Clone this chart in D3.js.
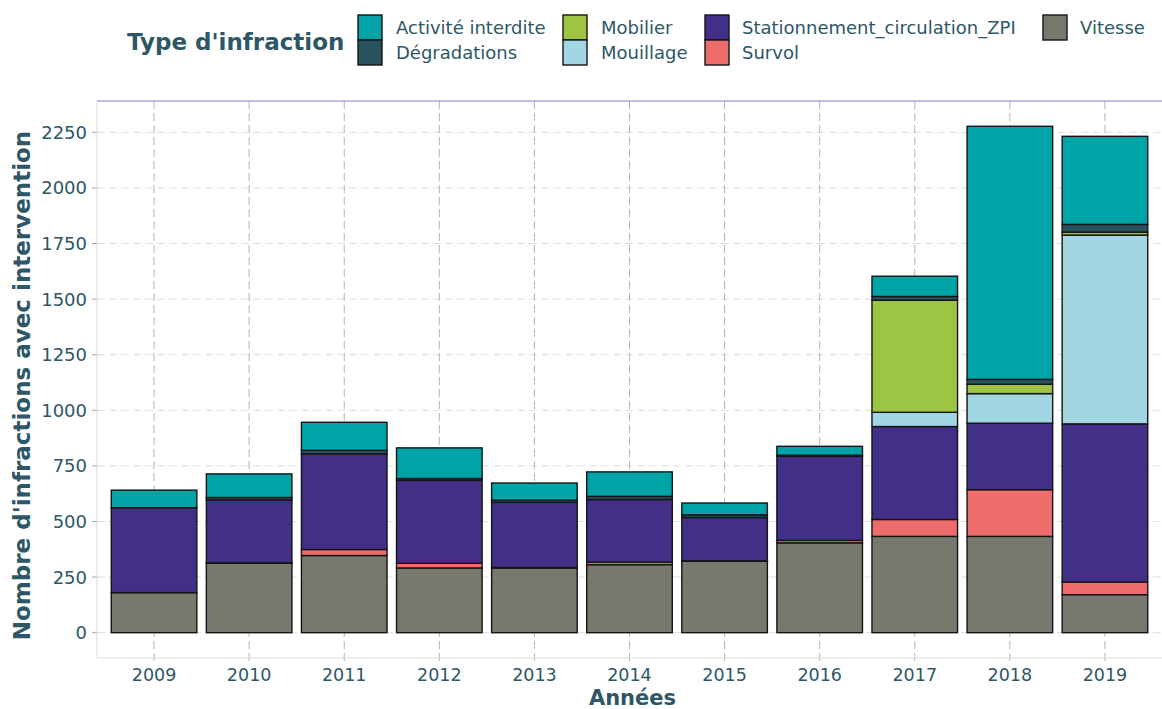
<!DOCTYPE html>
<meta charset="utf-8">
<style>
    body { margin: 0; background: #fff; }
    text { font-family: "DejaVu Sans", sans-serif; fill: #2d5766; }
    .grid-h line { stroke: #dedede; stroke-dasharray: 8, 4; }
    .grid-v line { stroke: #b4b4b4; stroke-dasharray: 8, 4; }
    .ticks line { stroke: #a8a8a8; }
    rect.bar { stroke: #141414; stroke-width: 1.4; }
    .legend rect { stroke: #141414; stroke-width: 1.4; }
</style>
<body>
<script src="https://cdn.jsdelivr.net/npm/d3@7"></script>
<script>
    var years = ["2009", "2010", "2011", "2012", "2013", "2014", "2015", "2016", "2017", "2018", "2019"];

    // one array per infraction type
    var vitesse       = [180, 312, 347, 291, 291, 306, 321, 404, 433, 433, 171];
    var survol        = [0, 2, 27, 21, 2, 12, 2, 11, 76, 210, 57];
    var stationnement = [382, 283, 430, 373, 293, 281, 195, 378, 418, 299, 711];
    var mouillage     = [0, 0, 0, 0, 0, 0, 0, 0, 64, 133, 849];
    var mobilier      = [0, 0, 0, 0, 0, 0, 0, 0, 504, 42, 13];
    var degradations  = [0, 11, 16, 8, 10, 14, 12, 5, 17, 22, 35];
    var activite      = [79, 106, 126, 138, 77, 110, 53, 40, 91, 1138, 396];

    var yTicks = [0, 250, 500, 750, 1000, 1250, 1500, 1750, 2000, 2250];

    // legend order (alphabetical), stacking goes from the last one upwards
    var types = ["Activité interdite", "Dégradations", "Mobilier", "Mouillage",
                 "Stationnement_circulation_ZPI", "Survol", "Vitesse"];
    var series = [activite, degradations, mobilier, mouillage, stationnement, survol, vitesse];
    var colors = ["#00a4a6", "#28535f", "#9dc543", "#a2d6e3", "#422f87", "#ee6d6c", "#79786f"];

    var W = 1162, H = 709;
    var panel = {left: 97, right: 1162, top: 101, bottom: 658};

    var svg = d3.select("body").append("svg")
            .attr("width", W)
            .attr("height", H);

    var rows = years.map(function (y, i) {
        var r = {year: y};
        types.forEach(function (t, k) { r[t] = series[k][i]; });
        return r;
    });

    var stack = d3.stack().keys(types.slice().reverse());
    var layers = stack(rows);
    var maxTotal = d3.max(layers[layers.length - 1], function (d) { return d[1]; });

    var x = d3.scaleBand()
            .domain(years)
            .range([panel.left, panel.right])
            .paddingInner(0.1)
            .paddingOuter(0.15);

    var y = d3.scaleLinear()
            .domain([-0.05 * maxTotal, 1.05 * maxTotal])
            .range([panel.bottom, panel.top]);

    var color = d3.scaleOrdinal().domain(types).range(colors);

    // grid
    svg.append("g").attr("class", "grid-h")
        .selectAll("line").data(yTicks).enter().append("line")
            .attr("x1", panel.left).attr("x2", panel.right)
            .attr("y1", function (d) { return y(d); })
            .attr("y2", function (d) { return y(d); });

    svg.append("g").attr("class", "grid-v")
        .selectAll("line").data(years).enter().append("line")
            .attr("x1", function (d) { return x(d) + x.bandwidth() / 2; })
            .attr("x2", function (d) { return x(d) + x.bandwidth() / 2; })
            .attr("y1", panel.top).attr("y2", panel.bottom + 6);

    // panel border
    svg.append("line")
            .attr("x1", panel.left).attr("x2", panel.left)
            .attr("y1", panel.top).attr("y2", panel.bottom)
            .attr("stroke", "#dcdcec");
    svg.append("line")
            .attr("x1", panel.left).attr("x2", panel.right)
            .attr("y1", panel.bottom).attr("y2", panel.bottom)
            .attr("stroke", "#dcdcec");
    svg.append("line")
            .attr("x1", panel.left).attr("x2", panel.right)
            .attr("y1", panel.top).attr("y2", panel.top)
            .attr("stroke", "#8a80c4");

    // bars
    svg.append("g").selectAll("g").data(layers).enter().append("g")
            .attr("fill", function (d) { return color(d.key); })
        .selectAll("rect").data(function (d) { return d.filter(function (p) { return p[1] > p[0]; }); })
        .enter().append("rect")
            .attr("class", "bar")
            .attr("x", function (d) { return x(d.data.year); })
            .attr("width", x.bandwidth())
            .attr("y", function (d) { return y(d[1]); })
            .attr("height", function (d) { return y(d[0]) - y(d[1]); });

    // y axis
    var yAxis = svg.append("g").attr("class", "ticks");
    yAxis.selectAll("line").data(yTicks).enter().append("line")
            .attr("x1", panel.left - 5).attr("x2", panel.left)
            .attr("y1", function (d) { return y(d); })
            .attr("y2", function (d) { return y(d); });
    yAxis.selectAll("text").data(yTicks).enter().append("text")
            .attr("x", panel.left - 10)
            .attr("y", function (d) { return y(d); })
            .attr("dy", "0.36em")
            .attr("text-anchor", "end")
            .style("font-size", "18px")
            .text(function (d) { return d; });

    // x axis
    svg.append("g").selectAll("text").data(years).enter().append("text")
            .attr("x", function (d) { return x(d) + x.bandwidth() / 2; })
            .attr("y", 681)
            .attr("text-anchor", "middle")
            .style("font-size", "17.5px")
            .text(function (d) { return d; });

    svg.append("text")
            .attr("x", (panel.left + panel.right) / 2 + 3)
            .attr("y", 705)
            .attr("text-anchor", "middle")
            .style("font-size", "21px")
            .style("font-weight", "bold")
            .text("Années");

    svg.append("text")
            .attr("transform", "translate(30," + ((panel.top + panel.bottom) / 2 + 6) + ") rotate(-90)")
            .attr("text-anchor", "middle")
            .style("font-size", "23px")
            .style("font-weight", "bold")
            .text("Nombre d'infractions avec intervention");

    // legend
    var legend = svg.append("g").attr("class", "legend");
    legend.append("text")
            .attr("x", 127).attr("y", 50)
            .style("font-size", "23px")
            .style("font-weight", "bold")
            .text("Type d'infraction");

    var colX = [358, 563, 705, 1043];
    var labX = [396, 601, 742, 1080];
    var item = legend.selectAll("g.item").data(types).enter().append("g")
            .attr("class", "item")
            .attr("transform", function (d, i) {
                var c = Math.floor(i / 2), r = i % 2;
                return "translate(" + colX[c] + "," + (15 + r * 25) + ")";
            });
    item.append("rect")
            .attr("width", 24).attr("height", 25)
            .attr("fill", function (d) { return color(d); });
    item.append("text")
            .attr("x", function (d, i) { return labX[Math.floor(i / 2)] - colX[Math.floor(i / 2)]; })
            .attr("y", 19)
            .style("font-size", "18px")
            .text(function (d) { return d; });
</script>
</body>
